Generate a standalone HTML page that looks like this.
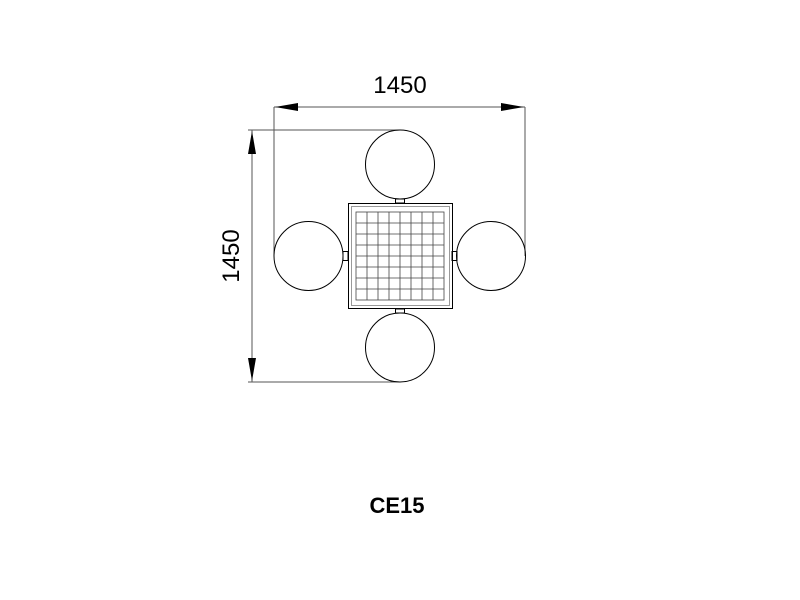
<!DOCTYPE html>
<html><head><style>body{margin:0;background:#fff}svg{display:block}</style></head><body>
<svg width="800" height="600" xmlns="http://www.w3.org/2000/svg">
<g fill="none" stroke="#000" stroke-width="1">
<line x1="274" y1="107" x2="525" y2="107" stroke="#555"/>
<line x1="274" y1="107" x2="274" y2="256" stroke="#555"/>
<line x1="525" y1="107" x2="525" y2="256" stroke="#555"/>
<line x1="252" y1="130" x2="252" y2="382" stroke="#555"/>
<line x1="248" y1="130" x2="400" y2="130" stroke="#555"/>
<line x1="248" y1="382" x2="400" y2="382" stroke="#555"/>
<circle cx="400" cy="164.5" r="34.5"/>
<circle cx="400" cy="347.5" r="34.5"/>
<circle cx="308.5" cy="256" r="34.5"/>
<circle cx="491" cy="256" r="34.5"/>
<rect x="395.5" y="199" width="9" height="4"/>
<rect x="395.5" y="309" width="9" height="4"/>
<rect x="343" y="251.5" width="5" height="9"/>
<rect x="452" y="251.5" width="5" height="9"/>
<rect x="348.5" y="203.5" width="104" height="105"/>
<rect x="351.5" y="206.5" width="98" height="99" stroke="#999"/>
<g stroke="#444" stroke-width="0.8">
<rect x="356" y="212" width="88" height="88"/>
<path d="M367 212V300M378 212V300M389 212V300M400 212V300M411 212V300M422 212V300M433 212V300M356 223H444M356 234H444M356 245H444M356 256H444M356 267H444M356 278H444M356 289H444"/>
</g>
</g>
<g fill="#000">
<polygon points="275,107 298,103 298,111"/>
<polygon points="524,107 501,103 501,111"/>
<polygon points="252,131 248,154 256,154"/>
<polygon points="252,381 248,358 256,358"/>
</g>
<text x="400" y="93" font-family="Liberation Sans, sans-serif" font-size="24" text-anchor="middle">1450</text>
<text transform="translate(239,256) rotate(-90)" font-family="Liberation Sans, sans-serif" font-size="24" text-anchor="middle">1450</text>
<text x="397" y="513" font-family="Liberation Sans, sans-serif" font-size="22" font-weight="bold" text-anchor="middle">CE15</text>
</svg>
</body></html>
